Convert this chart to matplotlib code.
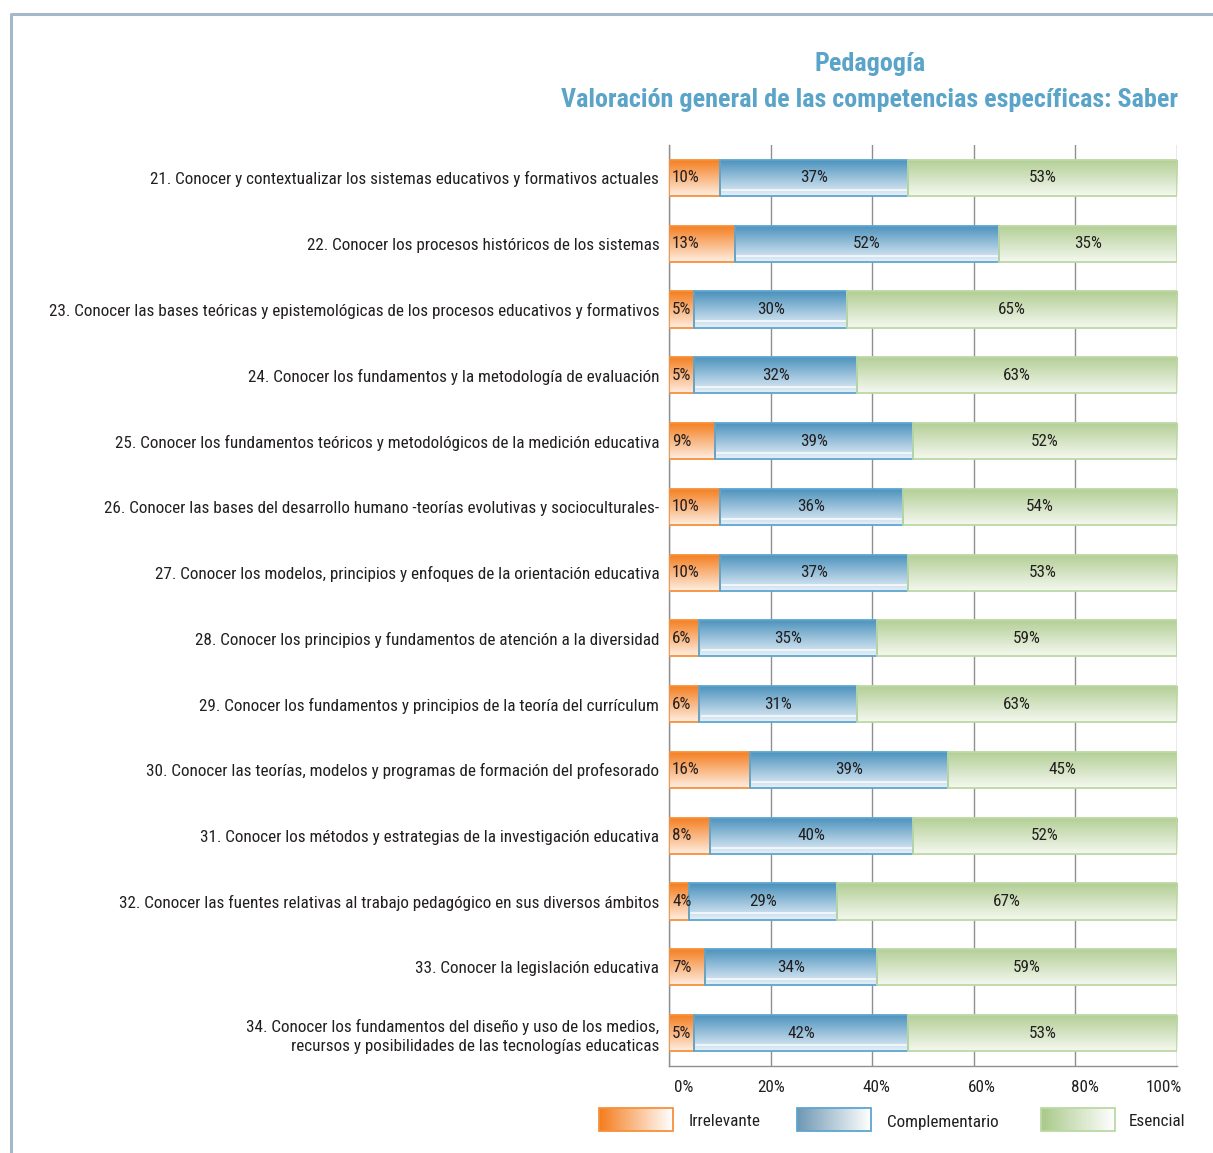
import matplotlib
matplotlib.use('Agg')
import matplotlib.pyplot as plt
import numpy as np
from matplotlib.colors import to_rgba
from matplotlib.lines import Line2D
import matplotlib.transforms as mtransforms

plt.rcParams['font.family'] = ['Roboto Condensed', 'Lato', 'DejaVu Sans']

categories = [
    "21. Conocer y contextualizar los sistemas educativos y formativos actuales",
    "22. Conocer los procesos históricos de los sistemas",
    "23. Conocer las bases teóricas y epistemológicas de los procesos educativos y formativos",
    "24. Conocer los fundamentos y la metodología de evaluación",
    "25. Conocer los fundamentos teóricos y metodológicos de la medición educativa",
    "26. Conocer las bases del desarrollo humano -teorías evolutivas y socioculturales-",
    "27. Conocer los modelos, principios y enfoques de la orientación educativa",
    "28. Conocer los principios y fundamentos de atención a la diversidad",
    "29. Conocer los fundamentos y principios de la teoría del currículum",
    "30. Conocer las teorías, modelos y programas de formación del profesorado",
    "31. Conocer los métodos y estrategias de la investigación educativa",
    "32. Conocer las fuentes relativas al trabajo pedagógico en sus diversos ámbitos",
    "33. Conocer la legislación educativa",
    "34. Conocer los fundamentos del diseño y uso de los medios,\nrecursos y posibilidades de las tecnologías educaticas",
]
irrelevante = [10, 13, 5, 5, 9, 10, 10, 6, 6, 16, 8, 4, 7, 5]
complementario = [37, 52, 30, 32, 39, 36, 37, 35, 31, 39, 40, 29, 34, 42]
esencial = [53, 35, 65, 63, 52, 54, 53, 59, 63, 45, 52, 67, 59, 53]
series_names = ["Irrelevante", "Complementario", "Esencial"]
tick_values = [0, 20, 40, 60, 80, 100]
tick_labels = ["0%", "20%", "40%", "60%", "80%", "100%"]
title1 = "Pedagogía"
title2 = "Valoración general de las competencias específicas: Saber"

# styles
grad_top = ["#f47d1e", "#4a91bc", "#b2ce94"]
grad_bot = ["#feeee2", "#e6f0f8", "#f5f8f0"]
edge_cols = ["#f6913a", "#5da5cf", "#bcd8a4"]
leg_left = ["#f47d1e", "#6f98b4", "#a9c98a"]
text_col = "#231f20"
title_col = "#5ba4c9"
FS = 12.3
TFS = 18.8

W, H = 1213, 1153
fig = plt.figure(figsize=(W / 100, H / 100), dpi=100)
fig.patch.set_facecolor("white")

# frame
fig.add_artist(Line2D([11 / W, 11 / W, 1.0], [0.0, 1 - 14 / H, 1 - 14 / H],
                      transform=fig.transFigure, color="#a3b8ca", lw=2.2))

ax = fig.add_axes([669 / W, 1 - 1066 / H, 508 / W, 921 / H])
n = len(categories)
y = np.arange(n)
bh = 0.55

def vgrad(c_top, c_bot, N=64):
    t = np.linspace(0, 1, N)[:, None]
    a = np.array(to_rgba(c_top)); b = np.array(to_rgba(c_bot))
    return (a[None, None, :] * (1 - t[:, :, None]) + b[None, None, :] * t[:, :, None])

data = [irrelevante, complementario, esencial]
left = np.zeros(n)
for k, vals in enumerate(data):
    vals = np.array(vals, dtype=float)
    bars = ax.barh(y, vals, left=left, height=bh, facecolor="none",
                   edgecolor=edge_cols[k], linewidth=1.3, zorder=4)
    img = vgrad(grad_top[k], grad_bot[k])
    for i, bar in enumerate(bars):
        x0 = left[i]; x1 = left[i] + vals[i]
        im = ax.imshow(img, extent=(x0, x1, y[i] + bh / 2, y[i] - bh / 2),
                       origin="upper", aspect="auto", zorder=3, interpolation="bilinear")
        im.set_clip_path(bar)
        if k == 1:
            yy = y[i] + bh * 0.33
            ax.plot([x0 + 0.4, x1 - 0.4], [yy, yy], color="white", lw=1.2, alpha=0.85, zorder=3.5)
        if k == 0:
            ax.text(x0 + 0.6, y[i], f"{int(vals[i])}%", ha="left", va="center",
                    fontsize=FS, color=text_col, zorder=6)
        else:
            ax.text((x0 + x1) / 2, y[i], f"{int(vals[i])}%", ha="center", va="center",
                    fontsize=FS, color=text_col, zorder=6)
    left = left + vals

ax.set_xlim(0, 100)
ax.set_ylim(n - 0.5, -0.5)
ax.set_xticks(tick_values)
ax.set_xticklabels([])
ax.set_yticks(y)
ax.set_yticklabels(categories, fontsize=FS, color=text_col, ha="right", linespacing=1.3)
ax.tick_params(axis="both", length=0)
ax.tick_params(axis="y", pad=7)
ax.grid(axis="x", color="#8f8f8f", lw=1.0, zorder=0)
ax.set_axisbelow(True)
for s in ["top", "right"]:
    ax.spines[s].set_visible(False)
for s in ["left", "bottom"]:
    ax.spines[s].set_color("#8f8f8f")
    ax.spines[s].set_linewidth(1.0)

tick_offsets_px = [15, 1, 4, 8, 10, -13]
for v, lab, off in zip(tick_values, tick_labels, tick_offsets_px):
    tr = mtransforms.offset_copy(ax.get_xaxis_transform(), fig=fig, x=off * 0.72, y=0, units="points")
    ax.text(v, -22 / 921, lab, transform=tr, ha="center", va="center",
            fontsize=FS, color=text_col)

fig.text(870 / W, 1 - 64 / H, title1, ha="center", va="center", fontsize=TFS,
         fontweight="bold", color=title_col)
fig.text(870 / W, 1 - 100 / H, title2, ha="center", va="center", fontsize=TFS,
         fontweight="bold", color=title_col)

lax = fig.add_axes([0, 0, 1, 1], zorder=10)
lax.set_xlim(0, W); lax.set_ylim(H, 0); lax.axis("off")
box_x = [599, 797, 1041]
txt_x = [689, 887, 1129]
by0, by1 = 1108, 1131
for k in range(3):
    t = np.linspace(0, 1, 64)[None, :]
    a = np.array(to_rgba(leg_left[k])); b = np.array(to_rgba("white"))
    g = a[None, None, :] * (1 - t[:, :, None]) + b[None, None, :] * t[:, :, None]
    lax.imshow(g, extent=(box_x[k], box_x[k] + 74, by1, by0), origin="upper",
               aspect="auto", interpolation="bilinear")
    lax.add_patch(plt.Rectangle((box_x[k], by0), 74, by1 - by0, fill=False,
                                edgecolor=edge_cols[k], lw=1.3))
    lax.text(txt_x[k], 1122, series_names[k], ha="left", va="center",
             fontsize=FS, color=text_col)
lax.set_xlim(0, W); lax.set_ylim(H, 0)

fig.savefig("out.png", dpi=100, facecolor="white")
